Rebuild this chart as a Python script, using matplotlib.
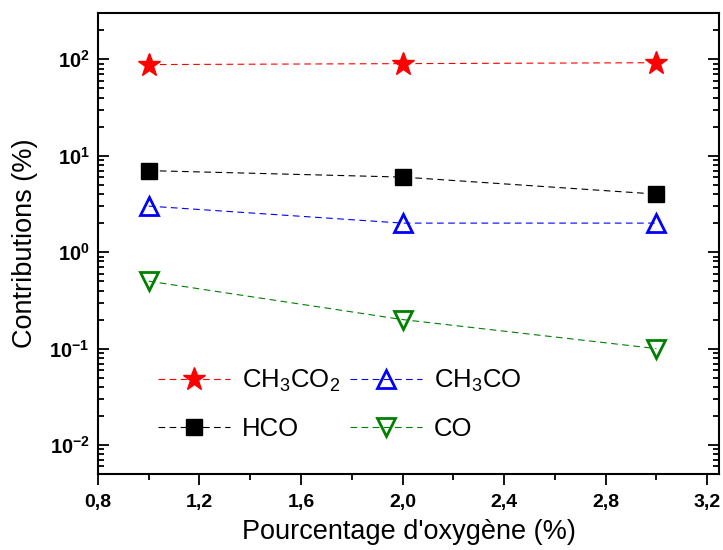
import numpy as np
import matplotlib
matplotlib.use('Agg')
from matplotlib import pyplot as plt
from matplotlib.ticker import FixedLocator, FuncFormatter, LogLocator, NullFormatter

plt.rcParams['font.family'] = ['Liberation Sans', 'DejaVu Sans']
plt.rcParams['mathtext.fontset'] = 'custom'
plt.rcParams['mathtext.rm'] = 'Liberation Sans'
plt.rcParams['mathtext.it'] = 'Liberation Sans:italic'
plt.rcParams['mathtext.bf'] = 'Liberation Sans:bold'

# data
oxygen = [1.0, 2.0, 3.0]
ch3co2 = [88, 90, 92]
hco = [7.0, 6.0, 4.0]
ch3co = [3.0, 2.0, 2.0]
co = [0.5, 0.2, 0.1]

x_ticks = [0.8, 1.2, 1.6, 2.0, 2.4, 2.8, 3.2]
y_ticks = [1e-2, 1e-1, 1e0, 1e1, 1e2]

fig = plt.figure(figsize=(7.23, 5.5), dpi=100)
ax = fig.add_axes([0.1355, 0.138, 0.859, 0.838])

dash = (6, 4)
l1, = ax.plot(oxygen, ch3co2, color='red', lw=0.8, dashes=dash, marker='*',
              ms=17, mec='red', mfc='red', label='CH$_3$CO$_2$')
l3, = ax.plot(oxygen, hco, color='black', lw=0.8, dashes=dash, marker='s',
              ms=11, mec='black', mfc='black', label='HCO')
l2, = ax.plot(oxygen, ch3co, color='blue', lw=0.8, dashes=dash, marker='^',
              ms=13, mec='blue', mfc='none', mew=2, label='CH$_3$CO')
l4, = ax.plot(oxygen, co, color='green', lw=0.8, dashes=dash, marker='v',
              ms=13, mec='green', mfc='none', mew=2, label='CO')

ax.set_yscale('log')
ax.set_ylim(0.005, 300)
ax.set_xlim(0.8, 3.247)

ax.xaxis.set_major_locator(FixedLocator(x_ticks))
ax.xaxis.set_minor_locator(FixedLocator([1.0, 1.4, 1.8, 2.2, 2.6, 3.0]))
ax.xaxis.set_major_formatter(FuncFormatter(lambda v, p: ('%.1f' % v).replace('.', ',')))

ax.yaxis.set_major_locator(FixedLocator(y_ticks))
ax.yaxis.set_minor_locator(LogLocator(base=10, subs=np.arange(2, 10)))
ax.yaxis.set_minor_formatter(NullFormatter())
ax.yaxis.set_major_formatter(FuncFormatter(
    lambda v, p: r'$\mathbf{10^{%d}}$' % int(round(np.log10(v)))))

ax.tick_params(axis='x', which='major', direction='out', length=8, width=1.3,
               labelsize=14, pad=6, top=False)
ax.tick_params(axis='x', which='minor', direction='out', length=4, width=1.3, top=False)
ax.tick_params(axis='y', which='major', direction='in', length=8, width=1.3,
               labelsize=14.5, pad=6, left=True, right=True)
ax.tick_params(axis='y', which='minor', direction='in', length=4, width=1.3,
               left=True, right=True)
for lab in ax.get_xticklabels():
    lab.set_fontweight('bold')

for s in ax.spines.values():
    s.set_linewidth(1.5)

ax.set_xlabel("Pourcentage d'oxygène (%)", fontsize=19.5, labelpad=6)
ax.set_ylabel('Contributions (%)', fontsize=19.5, labelpad=8)

ax.legend(handles=[l1, l3, l2, l4], ncol=2, frameon=False, fontsize=18.5,
          loc='lower left', bbox_to_anchor=(0.06, 0.022), handlelength=2.8,
          handletextpad=0.45, columnspacing=0.4, labelspacing=0.87)

fig.savefig('out.png', dpi=100)
